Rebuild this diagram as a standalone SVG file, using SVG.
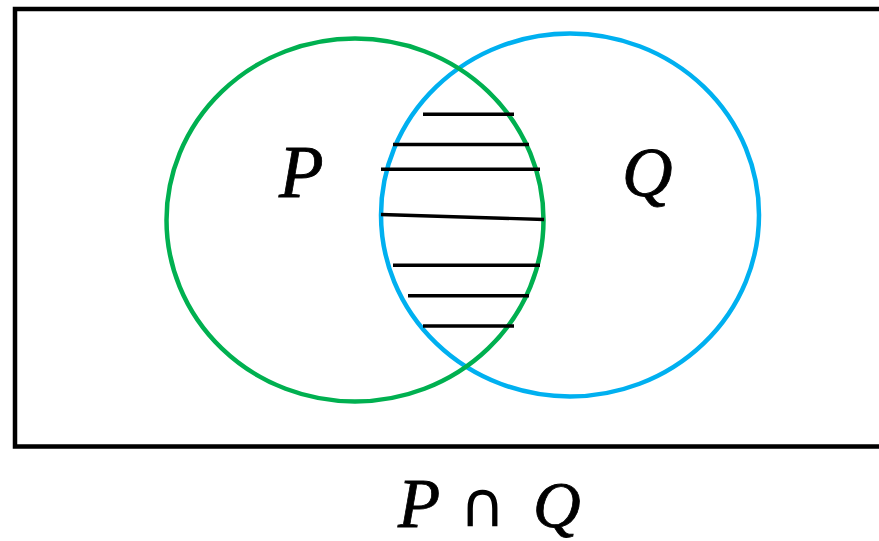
<svg xmlns="http://www.w3.org/2000/svg" width="879" height="541" viewBox="0 0 879 541">
<style>
.hatch{stroke:#000;stroke-width:3.4;fill:none}
.lbl{font-family:"Liberation Serif","DejaVu Serif",serif;font-style:italic;fill:#000;stroke:#000;stroke-width:0.8}
</style>
<rect x="0" y="0" width="879" height="541" fill="#fff"/>
<g id="universe">
<path d="M890 9 H15 V446.5 H890" fill="none" stroke="#000" stroke-width="4.5"/>
</g>
<g id="setQ">
<ellipse cx="570" cy="215" rx="189" ry="181.5" fill="none" stroke="#00B0F0" stroke-width="4.5"/>
</g>
<g id="setP">
<ellipse cx="355" cy="220" rx="188.5" ry="181.5" fill="none" stroke="#00B050" stroke-width="4.5"/>
</g>
<g id="hatching">
<line class="hatch" x1="423" y1="114.3" x2="514" y2="114.3"/>
<line class="hatch" x1="393" y1="144.5" x2="529" y2="144.5"/>
<line class="hatch" x1="381" y1="169.3" x2="540" y2="169.3"/>
<line class="hatch" x1="381" y1="214.5" x2="544" y2="219.5"/>
<line class="hatch" x1="393" y1="265.3" x2="540" y2="265.3"/>
<line class="hatch" x1="408" y1="295.7" x2="529" y2="295.7"/>
<line class="hatch" x1="423" y1="326" x2="514" y2="326"/>
</g>
<g id="labels">
<text class="lbl" x="279" y="197" font-size="73">P</text>
<text class="lbl" x="622" y="196" font-size="70">Q</text>
<text class="lbl" x="398" y="527" font-size="69">P</text>
<text x="482.5" y="526" font-size="63" font-family="'DejaVu Sans',sans-serif" text-anchor="middle">∩</text>
<text class="lbl" x="533" y="527" font-size="66">Q</text>
</g>
</svg>
